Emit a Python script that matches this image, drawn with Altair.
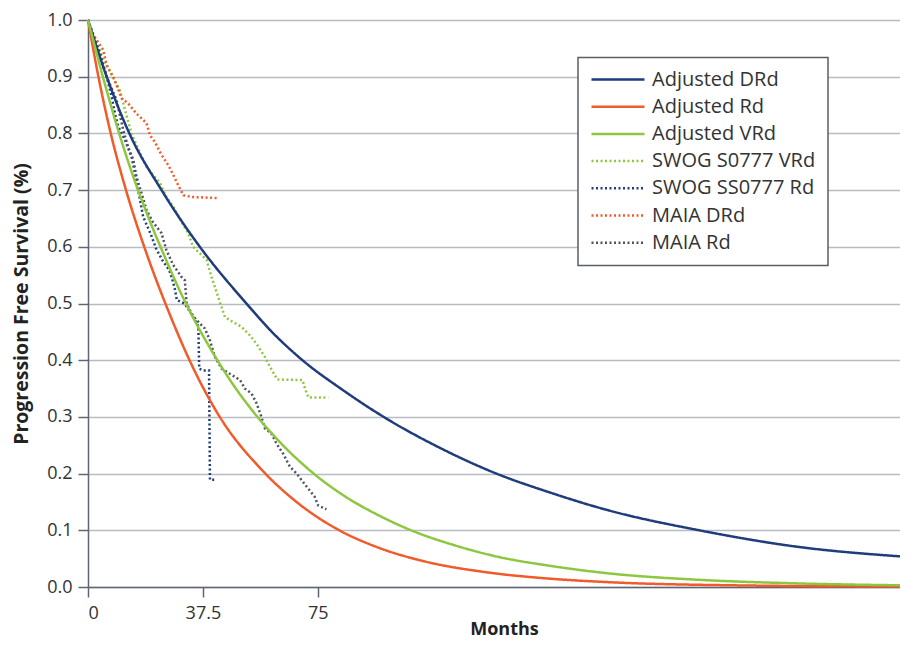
import altair as alt
import pandas as pd

SERIES = ["Adjusted DRd", "Adjusted Rd", "Adjusted VRd", "SWOG S0777 VRd",
          "SWOG SS0777 Rd", "MAIA DRd", "MAIA Rd"]
COLORS = ["#1f3d7c", "#f15a29", "#8dc63f", "#8dc63f", "#1f3d7c", "#f15a29", "#4d5360"]
DASHES = [[1, 0], [1, 0], [1, 0], [2, 2.5], [2, 2.5], [2, 2.5], [2, 2.5]]

# Adjusted (model) curves
drd_m = [0, 6.1, 13.5, 24, 36.5, 51.7, 60, 70, 83, 97.4, 115, 133.3, 150, 170, 199.5, 232, 265]
drd_s = [1.0, 0.9, 0.8, 0.7, 0.6, 0.5, 0.45, 0.4, 0.348, 0.297, 0.245, 0.2, 0.168, 0.135, 0.100,
         0.0706, 0.054]

rd_m = [0, 3.4, 7.2, 12.4, 19, 26, 34, 43, 57, 69, 81, 95, 110, 130, 150, 170, 210, 265]
rd_s = [1.0, 0.9, 0.805, 0.7, 0.59, 0.49, 0.39, 0.3, 0.205, 0.146, 0.103, 0.069, 0.045, 0.026,
        0.015, 0.0085, 0.003, 0.0008]

vrd_m = [0, 5, 10, 16, 20, 25, 30, 35, 42, 48, 55, 62, 73, 85, 95, 105, 120, 134, 150, 170, 200,
         232, 265]
vrd_s = [1.0, 0.897, 0.803, 0.705, 0.648, 0.583, 0.522, 0.468, 0.402, 0.352, 0.302, 0.259, 0.203,
         0.156, 0.126, 0.101, 0.073, 0.053, 0.038, 0.024, 0.0125, 0.0063, 0.003]

# Observed trial curves
swog_vrd_m = [0, 2.8, 5, 7.2, 10.4, 12.1, 14.2, 17, 19.1, 23.5, 25.6, 27.8, 30.5, 32.7, 34.3,
              38.7, 40.3, 43, 44.7, 47.4, 50.1, 52.8, 55, 57.7, 59.4, 61.8, 70, 71, 72, 78.4]
swog_vrd_s = [1.0, 0.96, 0.932, 0.909, 0.876, 0.841, 0.8, 0.765, 0.741, 0.712, 0.688, 0.671, 0.644,
              0.624, 0.6, 0.577, 0.547, 0.503, 0.476, 0.467, 0.459, 0.444, 0.429, 0.406, 0.388,
              0.366, 0.365, 0.347, 0.334, 0.334]

swog_rd_m = [0, 0.7, 3.9, 6.1, 7.7, 8.8, 9.9, 12.1, 14.2, 15.8, 17, 18, 20.5, 22.2, 24.3, 26.5,
             27.6, 28.4, 29, 31.5, 33, 35, 36, 36.3, 37.6, 39.5, 39.8, 42]
swog_rd_s = [1.0, 0.988, 0.941, 0.9, 0.865, 0.835, 0.812, 0.788, 0.759, 0.718, 0.682, 0.653, 0.622,
             0.597, 0.576, 0.559, 0.541, 0.524, 0.506, 0.5, 0.488, 0.47, 0.46, 0.385, 0.382, 0.382,
             0.189, 0.189]

maia_drd_m = [0, 1.2, 2.8, 5, 6.1, 8.2, 9.3, 11, 13.1, 15.8, 19.1, 20.2, 21.8, 24, 26.2, 27.8,
              29.4, 31.1, 33.8, 42]
maia_drd_s = [1.0, 0.979, 0.965, 0.947, 0.92, 0.9, 0.885, 0.862, 0.853, 0.835, 0.818, 0.797, 0.785,
              0.762, 0.744, 0.727, 0.709, 0.691, 0.688, 0.686]

maia_rd_m = [0, 6.1, 9.3, 11.5, 13.1, 14.8, 15.8, 17.5, 19.1, 21, 24, 25.6, 27.8, 30.5, 31.6, 32.2,
             33.8, 35.4, 38.1, 39.8, 41.4, 43.6, 46.3, 49.6, 51.2, 53.4, 55, 56.6, 57.7, 59.8,
             61.5, 63.7, 65.9, 68.1, 70.2, 71.8, 74, 75.1, 77.8]
maia_rd_s = [1.0, 0.9, 0.859, 0.806, 0.776, 0.753, 0.724, 0.694, 0.665, 0.645, 0.624, 0.594, 0.568,
             0.547, 0.541, 0.5, 0.482, 0.471, 0.456, 0.435, 0.406, 0.385, 0.376, 0.365, 0.35, 0.341,
             0.324, 0.3, 0.28, 0.271, 0.253, 0.235, 0.212, 0.2, 0.185, 0.174, 0.159, 0.144, 0.137]

X_TICKS = [0, 37.5, 75]
Y_TICKS = [0, 0.1, 0.2, 0.3, 0.4, 0.5, 0.6, 0.7, 0.8, 0.9, 1.0]


def frame(name, ms, ss):
    return pd.DataFrame({"series": name, "month": ms, "pfs": ss})


solid = pd.concat([frame(SERIES[0], drd_m, drd_s),
                   frame(SERIES[1], rd_m, rd_s),
                   frame(SERIES[2], vrd_m, vrd_s)])
dotted = pd.concat([frame(SERIES[3], swog_vrd_m, swog_vrd_s),
                    frame(SERIES[4], swog_rd_m, swog_rd_s),
                    frame(SERIES[5], maia_drd_m, maia_drd_s),
                    frame(SERIES[6], maia_rd_m, maia_rd_s)])

FONT = "Open Sans"

x_enc = alt.X("month:Q",
              scale=alt.Scale(domain=[0, 265], nice=False, zero=True),
              axis=alt.Axis(values=X_TICKS, labelExpr="'' + datum.value", grid=False,
                            title="Months", titleX=416, titleY=47, titleAlign="center",
                            titleBaseline="alphabetic", titleFontSize=18, labelPadding=7))
y_enc = alt.Y("pfs:Q",
              scale=alt.Scale(domain=[0, 1], nice=False),
              axis=alt.Axis(values=Y_TICKS, format=".1f", grid=True,
                            title="Progression Free Survival (%)", titleFontSize=19.5,
                            titleX=-67, titleBaseline="middle", labelPadding=6))
color_enc = alt.Color("series:N", scale=alt.Scale(domain=SERIES, range=COLORS),
                      sort=SERIES,
                      legend=alt.Legend(title=None, orient="none", legendX=490, legendY=37.5,
                                        symbolType="stroke", symbolSize=2809,
                                        symbolStrokeWidth=2.5, clipHeight=20, rowPadding=7.2,
                                        labelFont=FONT, labelFontSize=20, labelColor="#333333",
                                        labelOffset=6, padding=12, strokeColor="#5a5e66",
                                        fillColor="white", labelLimit=300))
dash_enc = alt.StrokeDash("series:N", scale=alt.Scale(domain=SERIES, range=DASHES),
                          sort=SERIES, legend=None)

dotted_layer = alt.Chart(dotted).mark_line(strokeWidth=2.5, interpolate="linear").encode(
    x=x_enc, y=y_enc, color=color_enc, strokeDash=dash_enc, detail="series:N")
solid_layer = alt.Chart(solid).mark_line(strokeWidth=2.5, interpolate="monotone").encode(
    x=x_enc, y=y_enc, color=color_enc, strokeDash=dash_enc, detail="series:N")

chart = alt.layer(dotted_layer, solid_layer).resolve_scale(
    color="shared", strokeDash="shared").properties(
    width=812, height=567,
    autosize=alt.AutoSizeParams(type="none"),
    padding={"left": 80, "top": 12, "right": 0, "bottom": 52},
).configure_view(stroke=None).configure_axis(
    labelFont=FONT, labelFontSize=18, labelColor="#333333",
    titleFont=FONT, titleFontWeight="bold", titleColor="#222222",
    domainColor="#5f6670", domainWidth=1.5, tickColor="#5f6670", tickWidth=1.5, tickSize=10,
    gridColor="#b9bac2", gridWidth=1.5,
).configure_legend(
    strokeWidth=1.5
)

chart.save("out.html", embed_options={"renderer": "svg", "actions": False})
